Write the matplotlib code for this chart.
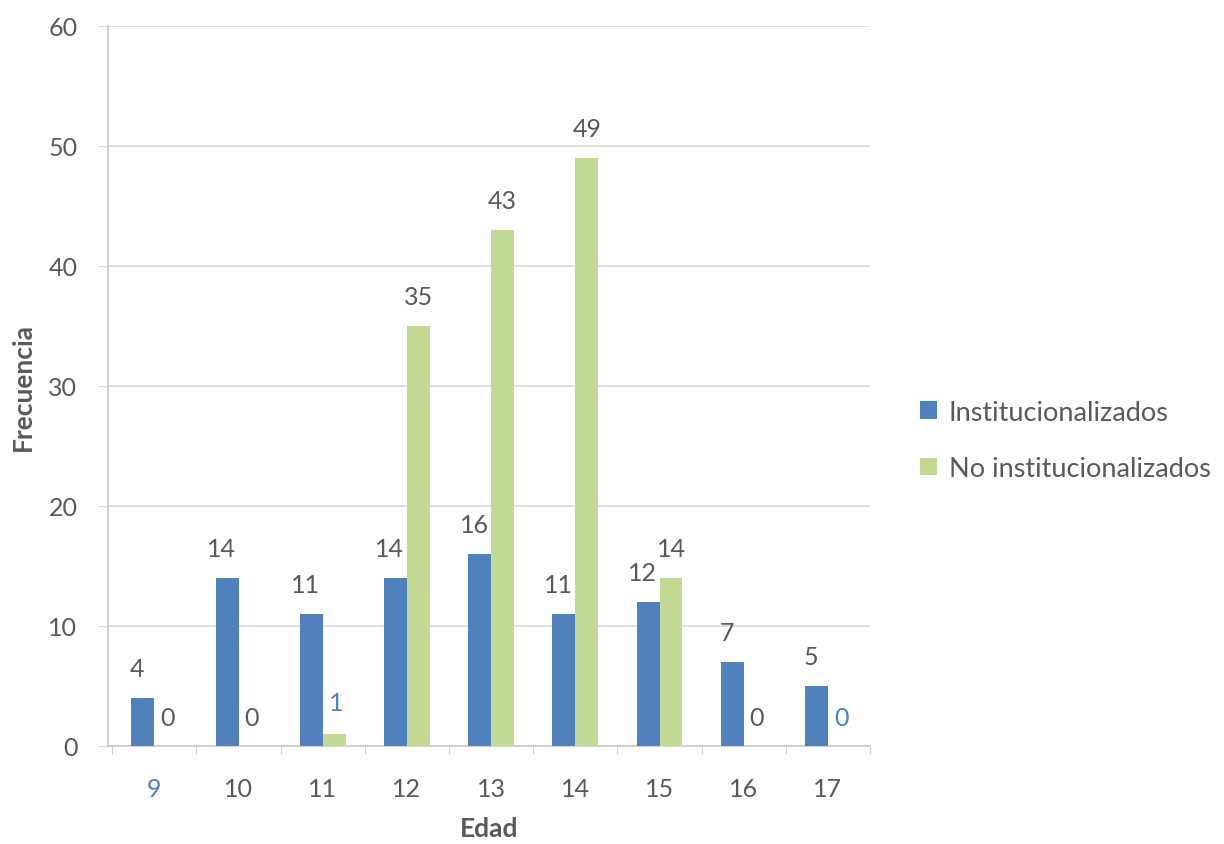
import matplotlib.pyplot as plt
import numpy as np

plt.rcParams['font.family'] = ['Lato', 'DejaVu Sans']

edades = ['9', '10', '11', '12', '13', '14', '15', '16', '17']
institucionalizados = [4, 14, 11, 14, 16, 11, 12, 7, 5]
no_institucionalizados = [0, 0, 1, 35, 43, 49, 14, 0, 0]

blue = '#4F81BD'
green = '#C3DA95'
grey_txt = '#595959'

fig = plt.figure(figsize=(12.24, 8.45), dpi=100)
ax = fig.add_axes([108 / 1224, 1 - 747 / 845, (870 - 108) / 1224, (747 - 27) / 845])

x = np.arange(len(edades))
w = 0.273
b1 = ax.bar(x - w / 2, institucionalizados, w, color=blue, label='Institucionalizados', zorder=3)
b2 = ax.bar(x + w / 2, no_institucionalizados, w, color=green, label='No institucionalizados', zorder=3)

ax.set_xlim(-0.55, len(edades) - 0.5)
ax.set_ylim(0, 60)
ax.set_yticks(range(0, 61, 10))
ax.yaxis.grid(True, color='#D9D9D9', linewidth=1.2, zorder=0)
ax.set_axisbelow(True)

for s in ['top', 'right']:
    ax.spines[s].set_visible(False)
ax.spines['left'].set_color('#C8C8C8')
ax.spines['bottom'].set_color('#C8C8C8')
ax.spines['left'].set_linewidth(1.2)
ax.spines['bottom'].set_linewidth(1.2)

ax.set_xticks(x)
ax.set_xticklabels(edades)
ax.set_xticks(np.arange(-0.5, len(edades), 1), minor=True)
ax.tick_params(axis='x', which='major', length=0, pad=22, labelsize=18, labelcolor=grey_txt)
ax.tick_params(axis='x', which='minor', length=6, color='#C8C8C8', direction='out')
ax.tick_params(axis='y', length=7, color='#D9D9D9', pad=15, labelsize=18, labelcolor=grey_txt)
ax.get_xticklabels()[0].set_color(blue)

for i, v in enumerate(institucionalizados):
    ax.annotate(str(v), (x[i] - w / 2, v), xytext=(-4, 13), textcoords='offset points',
                ha='center', va='bottom', fontsize=18, color=grey_txt)
for i, v in enumerate(no_institucionalizados):
    if v > 1:
        ax.annotate(str(v), (x[i] + w / 2, v), xytext=(0, 13), textcoords='offset points',
                    ha='center', va='bottom', fontsize=18, color=grey_txt)
    else:
        col = blue if i in (2, 8) else grey_txt
        yy = 3.6 if v == 1 else 2.4
        ax.text(x[i] + w / 2 + 0.02, yy, str(v), ha='center', va='center', fontsize=18, color=col)

ax.set_ylabel('Frecuencia', fontsize=19, fontweight='bold', color=grey_txt, labelpad=10)
ax.set_xlabel('Edad', fontsize=19, fontweight='bold', color=grey_txt, labelpad=12)

leg = fig.legend(handles=[b1, b2], loc='center left', bbox_to_anchor=(0.732, 0.478),
                 frameon=False, fontsize=19.5, handlelength=0.6, handleheight=0.6,
                 handletextpad=0.45, labelspacing=1.15, labelcolor=grey_txt)

fig.savefig('out.png', dpi=100)
